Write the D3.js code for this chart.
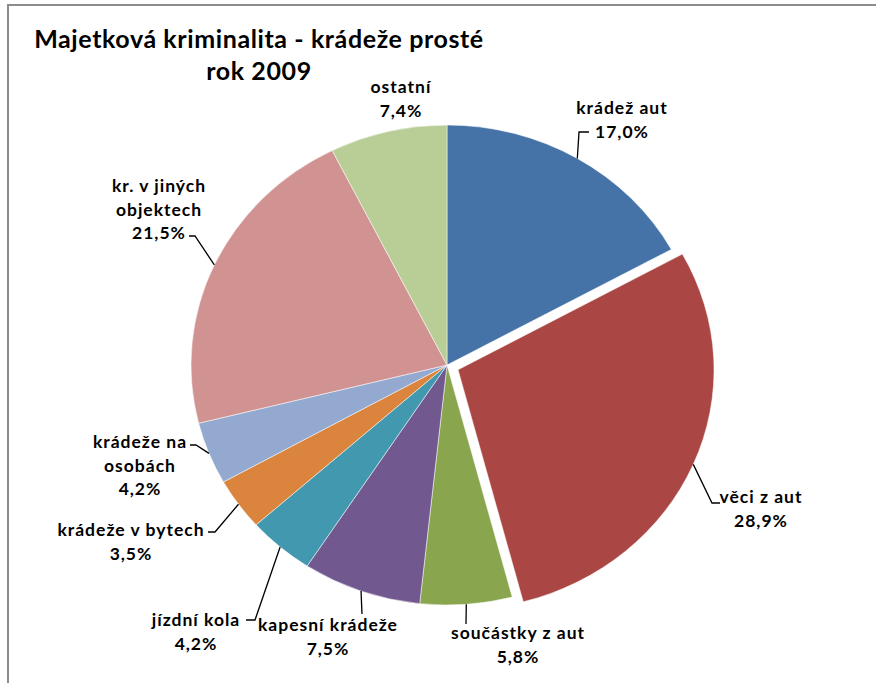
<!DOCTYPE html>
<html>
<head>
<meta charset="utf-8">
<script src="https://cdn.jsdelivr.net/npm/d3@7"></script>
<style>
  body { margin: 0; background: #fff; }
  svg { display: block; }
  text { font-family: Lato, "Open Sans", sans-serif; font-weight: bold; fill: #000; }
</style>
</head>
<body>
<div id="chart"></div>
<script>
	// data
	var categories = ["krádež aut", "věci z aut", "součástky z aut", "kapesní krádeže", "jízdní kola",
		"krádeže v bytech", "krádeže na osobách", "kr. v jiných objektech", "ostatní"];
	var shares = [17.0, 28.9, 5.8, 7.5, 4.2, 3.5, 4.2, 21.5, 7.4];
	var colors = ["#4572A7", "#AA4643", "#89A54E", "#71588F", "#4198AF",
		"#DB843D", "#93A9CF", "#D19392", "#B9CD96"];
	var labelLines = [
		["krádež aut"], ["věci z aut"], ["součástky z aut"], ["kapesní krádeže"], ["jízdní kola"],
		["krádeže v bytech"], ["krádeže na", "osobách"], ["kr. v jiných", "objektech"], ["ostatní"]
	];
	var exploded = [false, true, false, false, false, false, false, false, false];

	// label layout: text centre x, first baseline, leader points after the arc point
	var labelLayout = [
		{x: 622, y: 114, leader: [[579, 132], [589, 132]]},
		{x: 761, y: 503, leader: [[712, 503], [720, 503]]},
		{x: 518, y: 639, leader: [[466, 624]]},
		{x: 328, y: 631, leader: [[362, 614]]},
		{x: 196, y: 626, leader: [[255, 620], [246, 620]]},
		{x: 131, y: 536, leader: [[215, 532], [208, 532]]},
		{x: 140, y: 448, leader: [[196, 445], [190, 445]]},
		{x: 159, y: 192, leader: [[195, 236], [189, 236]]},
		{x: 401, y: 93, leader: []}
	];

	var width = 876,
		height = 683,
		cx = 447,
		cy = 365,
		ry = 240,
		rx = 256,
		explode = 12,
		lineH = 23.5;

	var svg = d3.select("#chart").append("svg")
		.attr("width", width)
		.attr("height", height);

	// chart frame
	svg.append("rect")
		.attr("x", 8).attr("y", 5)
		.attr("width", width + 10).attr("height", height + 10)
		.attr("fill", "none")
		.attr("stroke", "#8c8c8c")
		.attr("stroke-width", 2);

	// title
	var title = svg.append("text")
		.attr("text-anchor", "middle")
		.style("font-size", "25px")
		.style("letter-spacing", "0.6px");
	title.append("tspan").attr("x", 259).attr("y", 48).text("Majetková kriminalita - krádeže prosté");
	title.append("tspan").attr("x", 259).attr("y", 80).text("rok 2009");

	var data = shares.map(function(v, i) {
		return {name: categories[i], value: v, color: colors[i], lines: labelLines[i], exploded: exploded[i], layout: labelLayout[i]};
	});

	var pie = d3.pie()
		.sort(null)
		.value(function(d) { return d.value; });

	var arc = d3.arc()
		.innerRadius(0)
		.outerRadius(ry);

	var arcs = pie(data);

	// position on the (slightly wide) ellipse for a given angle
	function edgePoint(d, a) {
		var off = d.data.exploded ? explode : 0,
			mid = (d.startAngle + d.endAngle) / 2;
		return [
			cx + off * Math.sin(mid) + rx * Math.sin(a),
			cy - off * Math.cos(mid) - ry * Math.cos(a)
		];
	}

	var pieG = svg.append("g")
		.attr("transform", "translate(" + cx + "," + cy + ") scale(" + (rx / ry) + ",1)");

	pieG.selectAll("path")
		.data(arcs)
		.enter().append("path")
			.attr("d", arc)
			.attr("fill", function(d) { return d.data.color; })
			.attr("stroke", "#fff")
			.attr("stroke-width", 0.5)
			.attr("transform", function(d) {
				if (!d.data.exploded) return null;
				var mid = (d.startAngle + d.endAngle) / 2;
				return "translate(" + (explode * Math.sin(mid) * ry / rx) + "," + (-explode * Math.cos(mid)) + ")";
			});

	// leader lines
	var line = d3.line();
	svg.append("g").selectAll("path")
		.data(arcs.filter(function(d) { return d.data.layout.leader.length; }))
		.enter().append("path")
			.attr("d", function(d) {
				var p0 = edgePoint(d, (d.startAngle + d.endAngle) / 2);
				return line([p0].concat(d.data.layout.leader));
			})
			.attr("fill", "none")
			.attr("stroke", "#000")
			.attr("stroke-width", 1.3);

	// labels
	var labels = svg.append("g").selectAll("text")
		.data(arcs)
		.enter().append("text")
			.attr("text-anchor", "middle")
			.style("font-size", "17.5px")
			.style("letter-spacing", "1px");

	labels.each(function(d) {
		var t = d3.select(this),
			lines = d.data.lines.concat([d3.format(".1f")(d.data.value).replace(".", ",") + "%"]);
		lines.forEach(function(s, i) {
			t.append("tspan")
				.attr("x", d.data.layout.x)
				.attr("y", d.data.layout.y + i * lineH)
				.text(s);
		});
	});
</script>
</body>
</html>
